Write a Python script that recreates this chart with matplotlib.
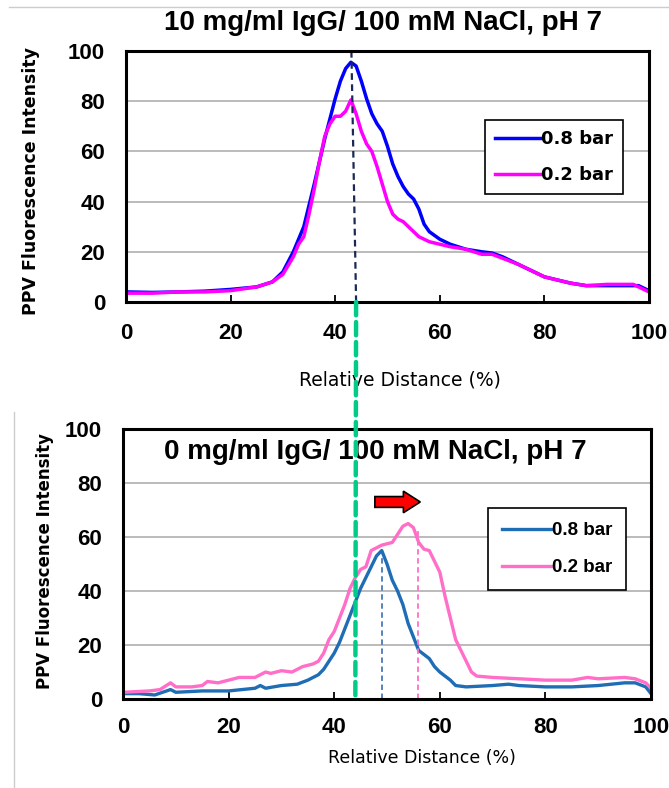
import numpy as np
import matplotlib
matplotlib.use("Agg")
import matplotlib.pyplot as plt
from matplotlib.patches import ConnectionPatch, FancyArrow
from matplotlib.lines import Line2D

# ---- data ----
# top panel: 10 mg/ml IgG
x_top_hi = [0, 5, 10, 15, 20, 25, 28, 30, 32, 34, 36, 38, 40, 41, 42, 43, 44, 45, 46, 47, 48, 49,
            50, 51, 52, 53, 54, 55, 56, 57, 58, 60, 62, 65, 68, 70, 72, 75, 78, 80, 82, 85, 88,
            90, 95, 98, 100]
y_top_hi = [4, 3.8, 4, 4.3, 5, 6, 8, 12, 20, 30, 47, 65, 81, 88, 93, 95.5, 94, 88, 81, 75, 71, 68,
            62, 55, 50, 46, 43, 41, 37, 31, 28, 25, 23, 21, 20, 19.5, 18, 15, 12, 10, 9, 7.5, 6.5,
            6.5, 6.5, 6.5, 4.5]
x_top_lo = [0, 5, 10, 15, 20, 25, 28, 30, 32, 33, 34, 35, 36, 37, 38, 39, 40, 41, 42, 43, 44, 45,
            46, 47, 48, 49, 50, 51, 52, 53, 54, 55, 56, 58, 60, 62, 65, 68, 70, 75, 80, 85, 88,
            92, 97, 100]
y_top_lo = [3.5, 3.5, 4, 4, 4.5, 6, 8, 11, 18, 23, 26, 35, 45, 56, 66, 71, 74, 74, 76, 80.5, 75, 68,
            63, 60, 54, 47, 40, 35, 33, 32, 30, 28, 26, 24, 23, 22, 21, 19, 19, 15, 10, 7.5, 6.5,
            7, 7, 4]

# bottom panel: 0 mg/ml IgG
x_bot_hi = [0, 3, 6, 9, 10, 15, 20, 25, 26, 27, 30, 33, 35, 37, 38, 40, 41, 42, 43, 44, 45, 46, 47,
            48, 49, 50, 51, 52, 53, 54, 55, 56, 57, 58, 59, 60, 62, 63, 65, 70, 73, 75, 80, 85,
            90, 95, 97, 99, 100]
y_bot_hi = [2, 2, 1.5, 3.5, 2.5, 3, 3, 4, 5, 4, 5, 5.5, 7, 9, 11, 17, 21, 26, 31, 36, 41, 45, 49,
            53, 55, 50, 44, 40, 35, 28, 23, 18, 16.5, 15, 12, 10, 7, 5, 4.5, 5, 5.5, 5, 4.5, 4.5,
            5, 6, 6, 4.5, 2]
x_bot_lo = [0, 5, 7, 9, 10, 13, 15, 16, 18, 20, 22, 25, 27, 28, 30, 32, 34, 36, 37, 38, 39, 40, 41,
            42, 43, 44, 45, 46, 47, 48, 49, 50, 51, 52, 53, 54, 55, 56, 57, 58, 59, 60, 61, 62,
            63, 64, 65, 66, 67, 70, 75, 80, 85, 88, 90, 95, 97, 99, 100]
y_bot_lo = [2.5, 3, 3.5, 6, 4.5, 4.5, 5, 6.5, 6, 7, 8, 8, 10, 9.5, 10.5, 10, 12, 13, 14, 17, 22, 25,
            30, 35, 41, 45, 48, 49, 55, 56, 57, 57.5, 58, 61, 64, 65, 63.5, 58, 55.5, 55, 51, 47,
            38, 30, 22, 18, 14, 10, 8.5, 8, 7.5, 7, 7, 8, 7.5, 8, 7.5, 6, 4]

labels = ["0.8 bar", "0.2 bar"]
ticks = [0, 20, 40, 60, 80, 100]

shift_ref = 44       # green guide
peak_hi_bot = 49
peak_lo_bot = 55.8

fig = plt.figure(figsize=(6.69, 7.88), dpi=100)
ax1 = fig.add_axes([0.1883, 0.6168, 0.7818, 0.3185])
ax2 = fig.add_axes([0.1839, 0.1129, 0.7892, 0.3426])

tick_font = {'family': 'Liberation Sans', 'weight': 'bold', 'size': 16}


def style(ax, pad):
    ax.set_xlim(0, 100)
    ax.set_ylim(0, 100)
    ax.set_xticks(ticks)
    ax.set_yticks(ticks)
    ax.grid(axis='y', color='#a8a8a8', lw=1.1)
    ax.set_axisbelow(True)
    for s in ax.spines.values():
        s.set_linewidth(2.2)
        s.set_color('black')
    ax.tick_params(axis='x', direction='in', length=5, width=1.3, pad=pad, top=False)
    ax.tick_params(axis='y', length=0, pad=15)
    for lab in ax.get_xticklabels() + ax.get_yticklabels():
        lab.set_fontproperties(tick_font)


# top panel
ax1.plot(x_top_hi, y_top_hi, color='#0000ff', lw=2.5, label=labels[0])
ax1.plot(x_top_lo, y_top_lo, color='#ff00ff', lw=2.5, label=labels[1])
ax1.plot([43.1, 44], [100, 0], color='#1a2a55', lw=1.6, ls=(0, (3, 2)))
style(ax1, 15)
ax1.set_ylabel('PPV Fluorescence Intensity', fontsize=12.5, fontweight='bold')
ax1.yaxis.set_label_coords(-0.164, 0.48)
ax1.set_xlabel('Relative Distance (%)', fontsize=13.5, family='DejaVu Sans')
ax1.xaxis.set_label_coords(0.524, -0.311)
ax1.xaxis.label.set_verticalalignment('center')
ax1.text(0.491, 1.112, '10 mg/ml IgG/ 100 mM NaCl, pH 7', transform=ax1.transAxes,
         ha='center', va='center', fontsize=20, fontweight='bold', family='Liberation Sans')
leg1 = ax1.legend(loc='upper left', bbox_to_anchor=(0.686, 0.725), borderaxespad=0,
                  fancybox=False, framealpha=1, edgecolor='black', handlelength=2.5,
                  handletextpad=0.05, labelspacing=1.0, borderpad=0.55,
                  prop={'family': 'DejaVu Sans', 'weight': 'bold', 'size': 13})
leg1.get_frame().set_linewidth(1.2)

# bottom panel
ax2.plot(x_bot_hi, y_bot_hi, color='#1f6db5', lw=2.4, label=labels[0])
ax2.plot(x_bot_lo, y_bot_lo, color='#ff6ec7', lw=2.4, label=labels[1])
ax2.plot([peak_hi_bot, peak_hi_bot], [0, 53], color='#4a78b8', lw=1.3, ls=(0, (3, 2)))
ax2.plot([peak_lo_bot, peak_lo_bot], [0, 63], color='#ff6ec7', lw=1.3, ls=(0, (3, 2)))
style(ax2, 13)
ax2.set_ylabel('PPV Fluorescence Intensity', fontsize=12, fontweight='bold')
ax2.yaxis.set_label_coords(-0.131, 0.51)
ax2.set_xlabel('Relative Distance (%)', fontsize=12.5, family='DejaVu Sans')
ax2.xaxis.set_label_coords(0.566, -0.219)
ax2.xaxis.label.set_verticalalignment('center')
ax2.text(0.478, 0.915, '0 mg/ml IgG/ 100 mM NaCl, pH 7', transform=ax2.transAxes,
         ha='center', va='center', fontsize=20, fontweight='bold', family='Liberation Sans')
leg2 = ax2.legend(loc='upper left', bbox_to_anchor=(0.691, 0.707), borderaxespad=0,
                  fancybox=False, framealpha=1, edgecolor='black', handlelength=2.6,
                  handletextpad=0.05, labelspacing=1.05, borderpad=0.75,
                  prop={'family': 'Liberation Sans', 'weight': 'bold', 'size': 13.5})
leg2.get_frame().set_linewidth(1.2)

# red shift arrow
ax2.add_patch(FancyArrow(47.7, 73, 8.6, 0, width=4, head_width=8, head_length=3.2,
                         length_includes_head=True, fc='#ff0000', ec='black', lw=1.2, zorder=5))

# green guide connecting the two panels
con = ConnectionPatch(xyA=(shift_ref, 0), coordsA=ax1.transData,
                      xyB=(shift_ref, 0), coordsB=ax2.transData,
                      color='#00cc88', lw=3.2, ls=(0, (3, 1.5)), zorder=10)
fig.add_artist(con)

# faint border lines of the pasted picture
fig.add_artist(Line2D([0.013, 1.0], [0.991, 0.991], color='#cccccc', lw=1))
fig.add_artist(Line2D([0.021, 0.021], [0.0, 0.477], color='#cccccc', lw=1))

fig.savefig('out.png', dpi=100)
